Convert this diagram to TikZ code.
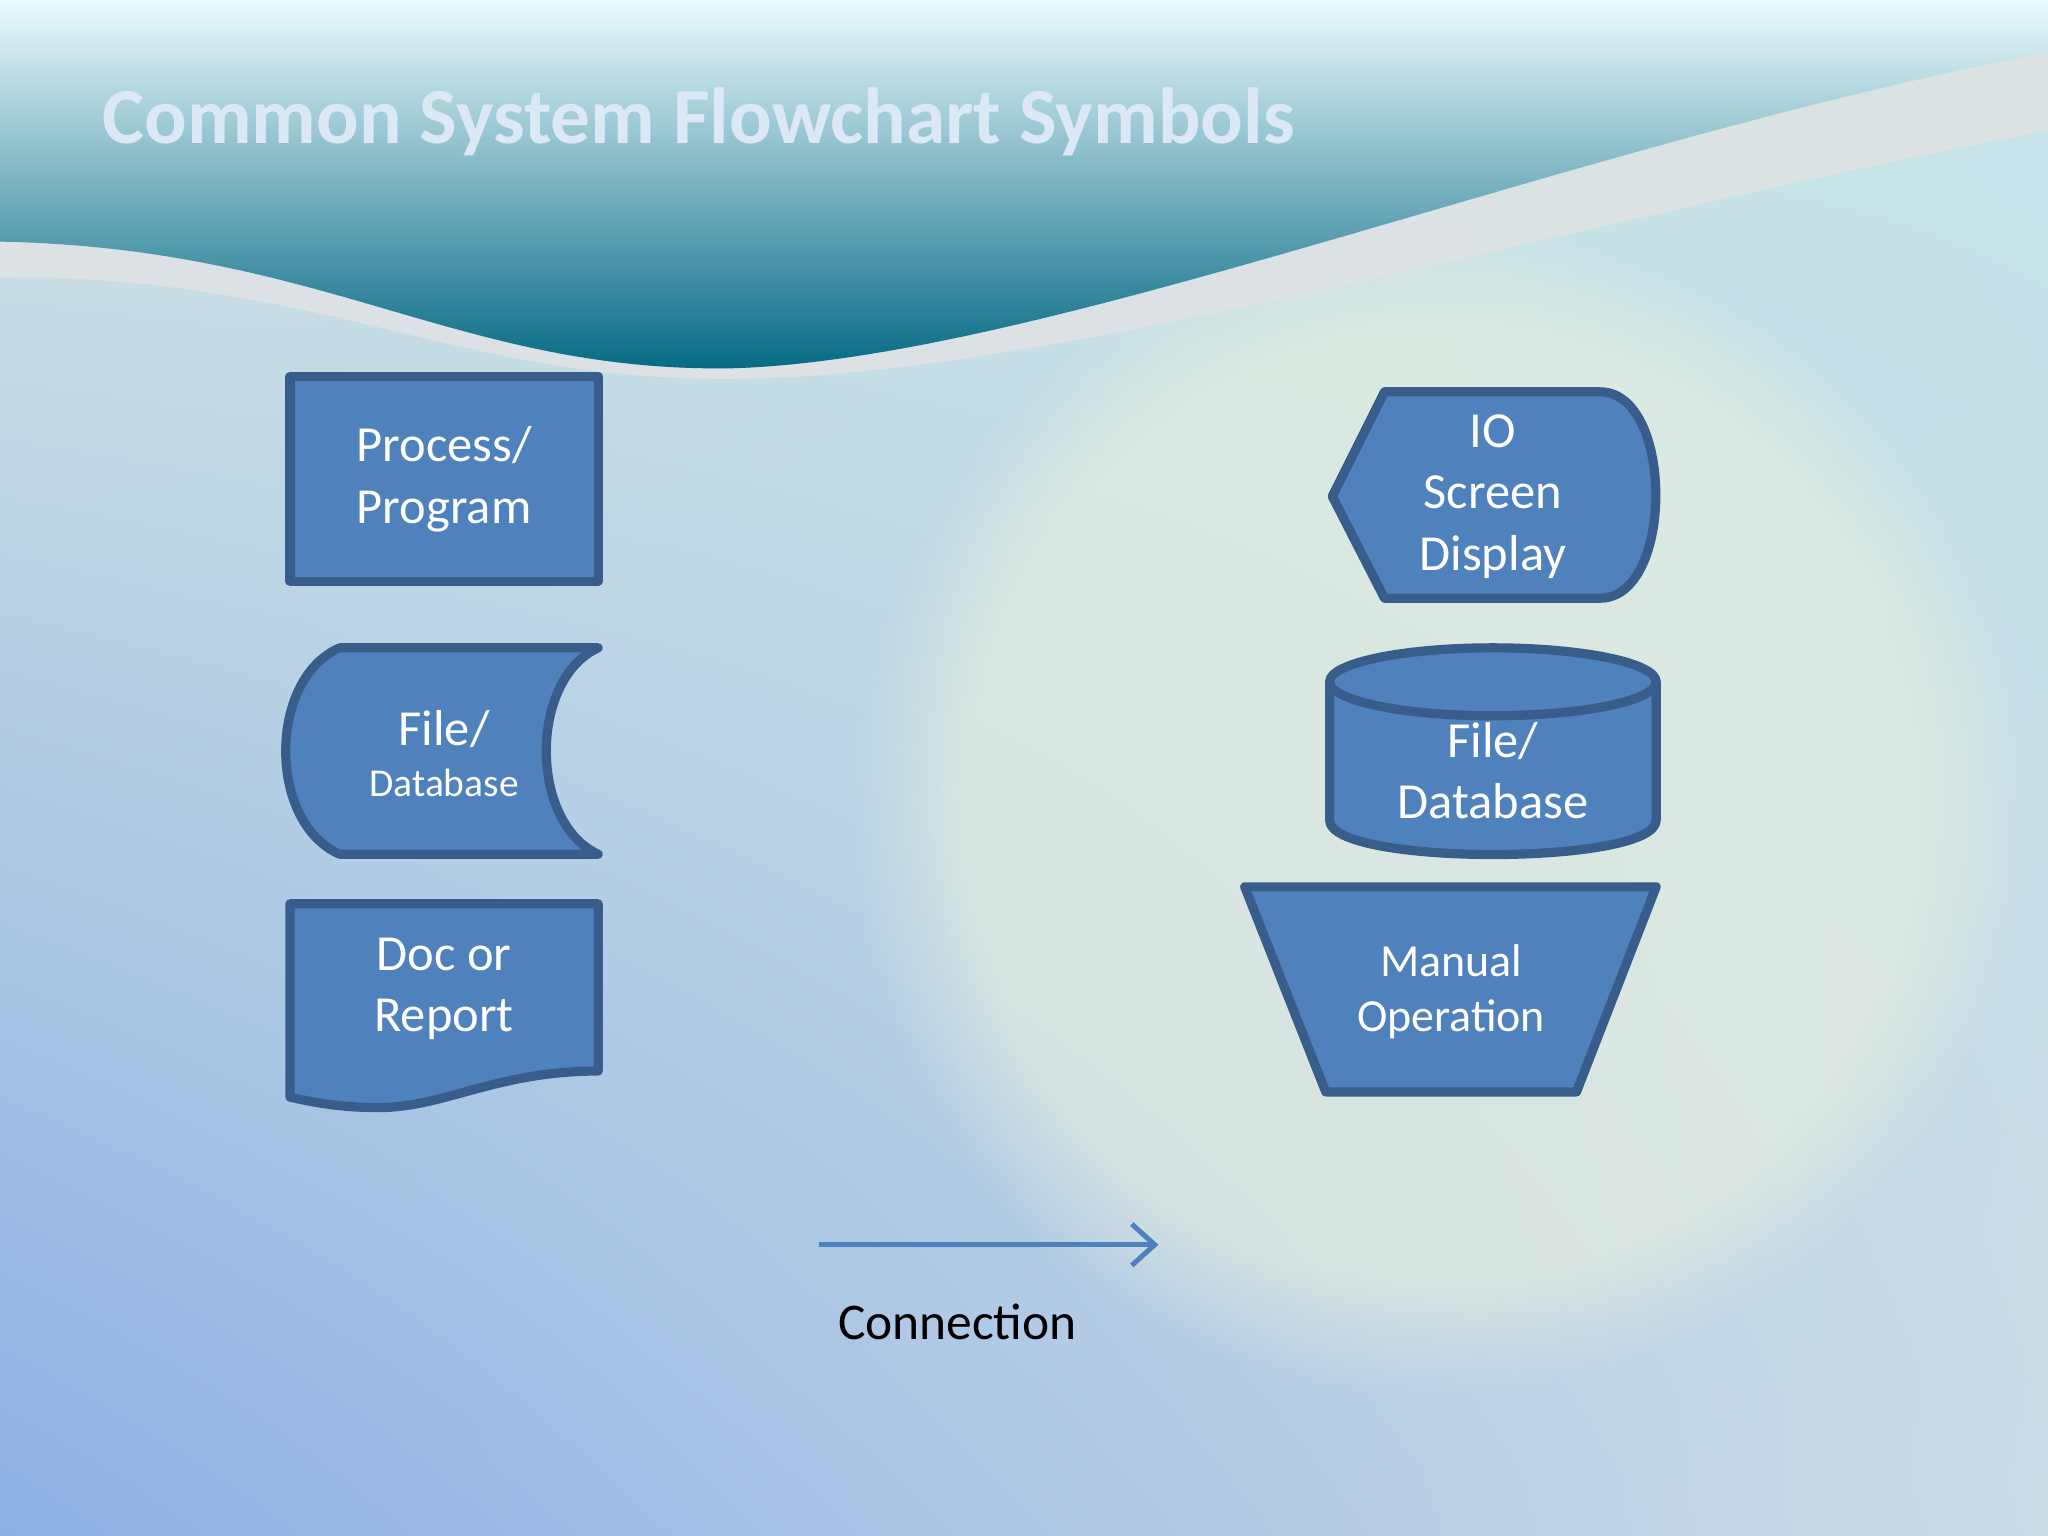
\documentclass[tikz,border=0pt]{standalone}
\usepackage{fontspec}
\setmainfont{Carlito}
\usetikzlibrary{fadings,arrows.meta,shadings}
\definecolor{boxfill}{HTML}{4F81BD}
\definecolor{boxline}{HTML}{385D8A}
\definecolor{titlec}{HTML}{DCE9F5}
\definecolor{bgul}{RGB}{214,230,228}
\definecolor{bgur}{RGB}{196,228,232}
\definecolor{bgll}{RGB}{140,176,228}
\definecolor{bglr}{RGB}{206,220,230}
\tikzset{sym/.style={fill=boxfill,draw=boxline,line width=2pt,line join=round},
 lbl/.style={text=white,align=center,font=\fontsize{11}{13.4}\selectfont},
 lbls/.style={text=white,align=center,font=\fontsize{10}{12}\selectfont}}
\begin{document}
\begin{tikzpicture}[x=0.01cm,y=-0.01cm]
\useasboundingbox (0,0) rectangle (1568,1176);
% background
\shade[upper left=bgul,upper right=bgur,lower left=bgll,lower right=bglr] (0,0) rectangle (1568,1176);
\fill[color={rgb,255:red,238;green,242;blue,222},path fading=circle with fuzzy edge 20 percent,opacity=.55] (1100,620) circle (450);
% gray wave band
\fill[color={rgb,255:red,222;green,226;blue,228},opacity=.9] (0,175) .. controls (250,180) and (350,285) .. (560,282) .. controls (800,275) and (1200,110) .. (1568,30)
 -- (1568,100) .. controls (1200,170) and (800,290) .. (560,290) .. controls (350,292) and (250,212) .. (0,212) -- cycle;
% header
\shade[top color={rgb,255:red,235;green,250;blue,252},middle color={rgb,255:red,50;green,150;blue,175},bottom color={rgb,255:red,5;green,105;blue,132}]
 (0,0) -- (1568,0) -- (1568,40) .. controls (1200,110) and (800,275) .. (560,282) .. controls (350,285) and (250,190) .. (0,185) -- cycle;
\node[anchor=west,text=titlec,font=\bfseries\fontsize{17.3}{20}\selectfont] (title) at (66,93) {Common System Flowchart Symbols};
% process
\draw[sym] (222,288) rectangle (458,445);
\node[lbl] (proc) at (340,367) {Process/\\Program};
% stored data
\draw[sym] (260,496) -- (458,496) .. controls (405,520) and (405,630) .. (458,654) -- (260,654) .. controls (205,630) and (205,520) .. (260,496) -- cycle;
\node[align=center,text=white] (sd) at (340,577) {{\fontsize{11}{13}\selectfont File/}\\[-1pt]{\fontsize{8.6}{11}\selectfont Database}};
% document
\draw[sym] (222,692) -- (458,692) -- (458,820) .. controls (380,820) and (340,848) .. (290,848) .. controls (260,848) and (240,844) .. (222,840) -- cycle;
\node[lbl] (doc) at (340,757) {Doc or\\Report};
% display
\draw[sym] (1020,380) -- (1060,300) -- (1225,300) .. controls (1282,300) and (1282,458) .. (1225,458) -- (1060,458) -- cycle;
\node[lbl] (io) at (1143,380) {IO\\Screen\\Display};
% cylinder
\draw[sym] (1018,522) -- (1018,628) .. controls (1018,663) and (1268,663) .. (1268,628) -- (1268,522) -- cycle;
\draw[sym] (1143,522) ellipse[x radius=125,y radius=26];
\node[lbl] (db) at (1143,590) {File/\\Database};
% manual
\draw[sym] (953,679) -- (1268,679) -- (1207,836) -- (1015,836) -- cycle;
\node[lbls] (man) at (1111,759) {Manual\\Operation};
% connection
\coordinate (a1) at (627,953);
\coordinate (a2) at (887,953);
\draw[boxfill,line width=1.1pt,-{Straight Barb[length=5pt,width=9pt]}] (a1) -- (a2);
\node[font=\fontsize{11.2}{14}\selectfont] (conn) at (733,1012) {Connection};
\end{tikzpicture}
\end{document}
